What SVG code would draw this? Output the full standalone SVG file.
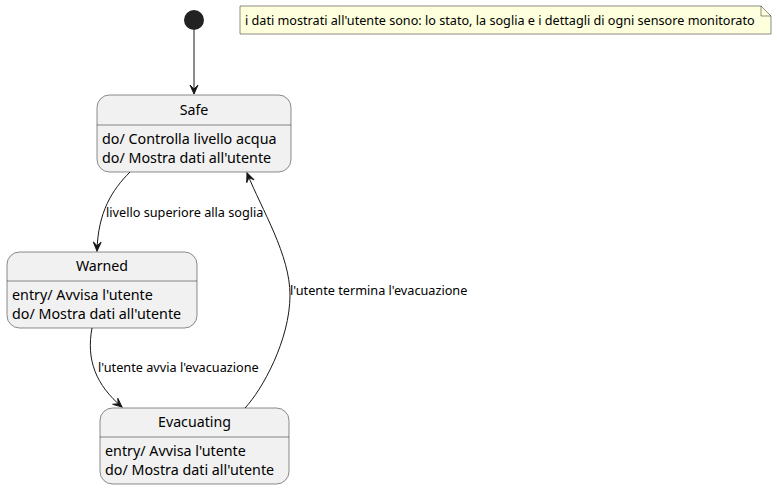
<svg xmlns="http://www.w3.org/2000/svg" width="777" height="489" viewBox="0 0 777 489">
<style>
text{font-family:"Noto Sans","DejaVu Sans",sans-serif;fill:#000}
.box{fill:#F1F1F1;stroke:#181818;stroke-width:0.5}
.sep{stroke:#181818;stroke-width:0.5}
.t{font-size:14.2px;text-anchor:middle}
.b{font-size:14.3px}
.lbl{font-size:12.7px}
.note{font-size:12.65px}
.edge{fill:none;stroke:#181818;stroke-width:1}
</style>
<defs>
<marker id="arr" viewBox="-10 -5 11 10" markerWidth="11" markerHeight="10" refX="0" refY="0" orient="auto" markerUnits="userSpaceOnUse">
<path d="M0,0 L-9,-4 L-5,0 L-9,4 Z" fill="#181818" stroke="#181818" stroke-width="1"/>
</marker>
</defs>
<rect width="777" height="489" fill="#FFFFFF"/>
<g id="initial">
<circle cx="194" cy="20" r="10" fill="#222222"/>
</g>
<g id="note">
<path d="M240,6 L761,6 L771,16 L771,34 L240,34 Z" fill="#FEFFDD" stroke="#181818" stroke-width="0.5"/>
<path d="M761,6 L761,16 L771,16" fill="none" stroke="#181818" stroke-width="0.5"/>
<text class="note" x="245" y="25">i dati mostrati all'utente sono: lo stato, la soglia e i dettagli di ogni sensore monitorato</text>
</g>
<g id="Safe">
<rect class="box" x="97" y="95" width="194" height="77" rx="12.5"/>
<line class="sep" x1="97" y1="125" x2="291" y2="125"/>
<text class="t" x="194" y="115">Safe</text>
<text class="b" x="102" y="144">do/ Controlla livello acqua</text>
<text class="b" x="102" y="163">do/ Mostra dati all'utente</text>
</g>
<g id="Warned">
<rect class="box" x="7" y="252" width="190" height="76" rx="12.5"/>
<line class="sep" x1="7" y1="281" x2="197" y2="281"/>
<text class="t" x="102" y="271">Warned</text>
<text class="b" x="12" y="300">entry/ Avvisa l'utente</text>
<text class="b" x="12" y="319">do/ Mostra dati all'utente</text>
</g>
<g id="Evacuating">
<rect class="box" x="100" y="408" width="189" height="76" rx="12.5"/>
<line class="sep" x1="100" y1="437" x2="289" y2="437"/>
<text class="t" x="194.5" y="427">Evacuating</text>
<text class="b" x="105" y="456">entry/ Avvisa l'utente</text>
<text class="b" x="105" y="475">do/ Mostra dati all'utente</text>
</g>
<g id="connectors">
<path class="edge" d="M194,30 L194,94" marker-end="url(#arr)"/>
<path class="edge" d="M130,172 C112,190 98,212 97,251" marker-end="url(#arr)"/>
<text class="lbl" x="106" y="217">livello superiore alla soglia</text>
<path class="edge" d="M92,328 C86,360 96,385 122,407" marker-end="url(#arr)"/>
<text class="lbl" x="98" y="372">l'utente avvia l'evacuazione</text>
<path class="edge" d="M245,408 C262,390 290,340 290,295 C290,255 262,210 247,173" marker-end="url(#arr)"/>
<text class="lbl" x="290" y="295">l'utente termina l'evacuazione</text>
</g>
</svg>
